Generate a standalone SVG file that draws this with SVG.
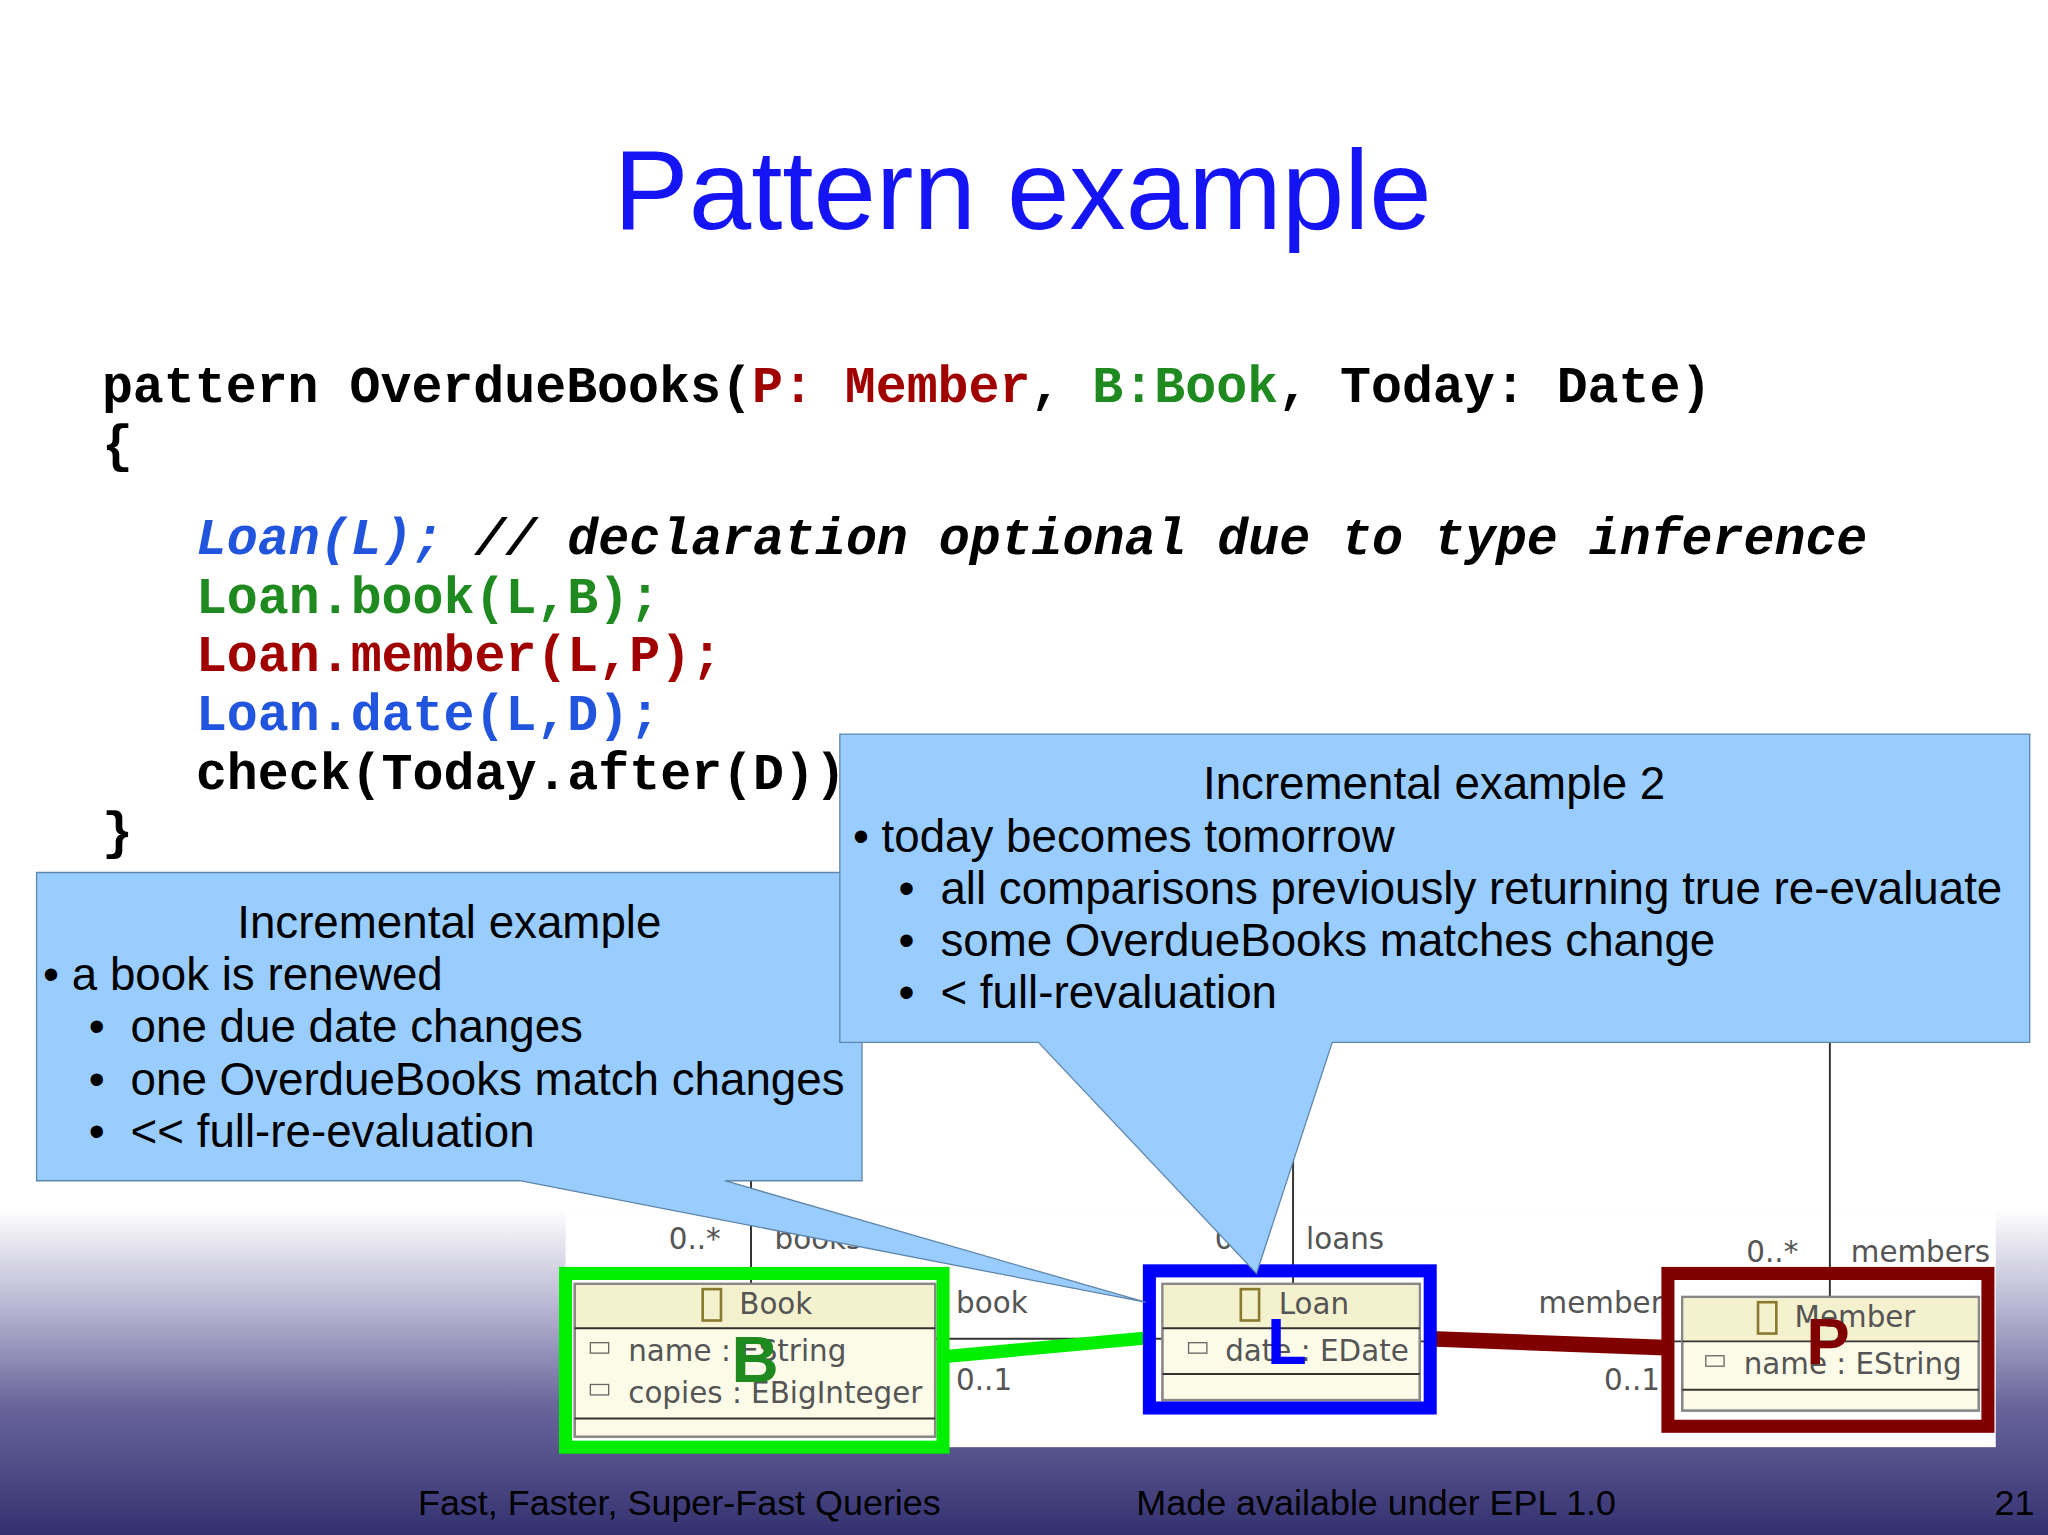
<svg xmlns="http://www.w3.org/2000/svg" width="2048" height="1535" viewBox="0 0 2048 1535">
<defs>
<linearGradient id="bg" x1="0" y1="0" x2="0" y2="1">
<stop offset="0" stop-color="#ffffff"/>
<stop offset="0.3" stop-color="#b8b6d2"/>
<stop offset="0.6" stop-color="#6a669c"/>
<stop offset="1" stop-color="#333070"/>
</linearGradient>
<style>
.code{font-family:"Liberation Mono",monospace;font-weight:bold;font-size:39.5px}
.ct{font-family:"Liberation Sans",Arial,sans-serif;font-size:35px;fill:#000}
.u{font-family:"DejaVu Sans",sans-serif;font-size:22.5px;fill:#555}
.cls{fill:#fcfbe8;stroke:#888;stroke-width:2}
.hd{fill:#f4f1cf}
.ln{stroke:#333;stroke-width:1.5;fill:none}
.ft{font-family:"Liberation Sans",Arial,sans-serif;font-size:27.5px;fill:#000}
.big{font-family:"Liberation Sans",Arial,sans-serif;font-size:50px;font-weight:bold}
</style>
</defs>
<g transform="scale(1.30612)">
<rect width="1568" height="1176" fill="#fff"/>
<rect y="925" width="1568" height="251" fill="url(#bg)"/>
<rect x="433" y="928" width="1095" height="180" fill="#fff"/>
<text x="783" y="175" text-anchor="middle" font-family="Liberation Sans,Arial,sans-serif" font-size="86" fill="#1414f5">Pattern example</text>
<g id="code" class="code">
<text x="78" y="308"><tspan fill="#000">pattern OverdueBooks(</tspan><tspan fill="#a00000">P: Member</tspan><tspan fill="#000">, </tspan><tspan fill="#1f8a1f">B:Book</tspan><tspan fill="#000">, Today: Date)</tspan></text>
<text x="78" y="353" fill="#000">{</text>
<text x="150" y="424" font-style="italic"><tspan fill="#2255dd">Loan(L);</tspan><tspan fill="#000"> // declaration optional due to type inference</tspan></text>
<text x="150" y="469" fill="#1f8a1f">Loan.book(L,B);</text>
<text x="150" y="514" fill="#a00000">Loan.member(L,P);</text>
<text x="150" y="559" fill="#2255dd">Loan.date(L,D);</text>
<text x="150" y="604" fill="#000">check(Today.after(D))</text>
<text x="78" y="649" fill="#000">}</text>
</g>
<g id="connectors">
<line class="ln" x1="575" y1="904" x2="575" y2="983"/>
<line class="ln" x1="990" y1="880" x2="990" y2="983"/>
<line class="ln" x1="1401" y1="798" x2="1401" y2="993"/>
<line class="ln" x1="716" y1="1025" x2="890" y2="1025"/>
<line class="ln" x1="1087" y1="1027" x2="1288" y2="1027"/>
<text class="u" x="512" y="956">0..*</text>
<text class="u" x="593" y="956">books</text>
<text class="u" x="930" y="956">0..*</text>
<text class="u" x="1000" y="956">loans</text>
<text class="u" x="1337" y="966">0..*</text>
<text class="u" x="1417" y="966">members</text>
<text class="u" x="732" y="1005">book</text>
<text class="u" x="732" y="1064">0..1</text>
<text class="u" x="1178" y="1005">member</text>
<text class="u" x="1228" y="1064">0..1</text>
<line x1="720" y1="1039" x2="882" y2="1024" stroke="#00ee00" stroke-width="10"/>
<line x1="1095" y1="1025" x2="1280" y2="1032" stroke="#800000" stroke-width="12"/>
</g>
<g id="book">
<rect class="cls" x="440" y="983" width="276" height="117"/>
<rect class="hd" x="441" y="984" width="274" height="33"/>
<line class="ln" x1="440" y1="1017" x2="716" y2="1017" stroke="#888"/>
<line class="ln" x1="440" y1="1086" x2="716" y2="1086" stroke="#888"/>
<rect x="538" y="987" width="14" height="24" fill="none" stroke="#8a7a30" stroke-width="2"/>
<text class="u" x="566" y="1006">Book</text>
<rect x="452" y="1028" width="14" height="8" fill="none" stroke="#666"/>
<text class="u" x="481" y="1042">name : EString</text>
<rect x="452" y="1060" width="14" height="8" fill="none" stroke="#666"/>
<text class="u" x="481" y="1074">copies : EBigInteger</text>
<rect x="433" y="975" width="289" height="133" fill="none" stroke="#00ee00" stroke-width="10"/>
<text class="big" x="560" y="1058" fill="#1f8a1f">B</text>
</g>
<g id="loan">
<rect class="cls" x="890" y="983" width="197" height="89"/>
<rect class="hd" x="891" y="984" width="195" height="33"/>
<line class="ln" x1="890" y1="1017" x2="1087" y2="1017" stroke="#888"/>
<line class="ln" x1="890" y1="1052" x2="1087" y2="1052" stroke="#888"/>
<rect x="950" y="987" width="14" height="24" fill="none" stroke="#8a7a30" stroke-width="2"/>
<text class="u" x="979" y="1006">Loan</text>
<rect x="910" y="1028" width="14" height="8" fill="none" stroke="#666"/>
<text class="u" x="938" y="1042">date : EDate</text>
<rect x="880" y="973" width="215" height="105" fill="none" stroke="#0000ff" stroke-width="10"/>
<text class="big" x="970" y="1044" fill="#0000ff">L</text>
</g>
<g id="member">
<rect class="cls" x="1288" y="993" width="227" height="87"/>
<rect class="hd" x="1289" y="994" width="225" height="33"/>
<line class="ln" x1="1288" y1="1027" x2="1515" y2="1027" stroke="#888"/>
<line class="ln" x1="1288" y1="1064" x2="1515" y2="1064" stroke="#888"/>
<rect x="1346" y="997" width="14" height="24" fill="none" stroke="#8a7a30" stroke-width="2"/>
<text class="u" x="1374" y="1016">Member</text>
<rect x="1306" y="1038" width="14" height="8" fill="none" stroke="#666"/>
<text class="u" x="1335" y="1052">name : EString</text>
<rect x="1277" y="975" width="245" height="117" fill="none" stroke="#800000" stroke-width="10"/>
<text class="big" x="1383" y="1044" fill="#800000">P</text>
</g>
<g id="callout1">
<path d="M28 668 H660 V904 H555 L877 997 L398 904 H28 Z" fill="#99ccff" stroke="#5f86a8" stroke-width="1"/>
<text class="ct" x="344" y="718" text-anchor="middle">Incremental example</text>
<text class="ct" x="33" y="758">• a book is renewed</text>
<text class="ct" x="68" y="798">•</text><text class="ct" x="100" y="798">one due date changes</text>
<text class="ct" x="68" y="838">•</text><text class="ct" x="100" y="838">one OverdueBooks match changes</text>
<text class="ct" x="68" y="878">•</text><text class="ct" x="100" y="878">&lt;&lt; full-re-evaluation</text>
</g>
<g id="callout2">
<path d="M643 562 H1554 V798 H1020 L962 975 L795 798 H643 Z" fill="#99ccff" stroke="#5f86a8" stroke-width="1"/>
<text class="ct" x="1098" y="612" text-anchor="middle">Incremental example 2</text>
<text class="ct" x="653" y="652">• today becomes tomorrow</text>
<text class="ct" x="688" y="692">•</text><text class="ct" x="720" y="692">all comparisons previously returning true re-evaluate</text>
<text class="ct" x="688" y="732">•</text><text class="ct" x="720" y="732">some OverdueBooks matches change</text>
<text class="ct" x="688" y="772">•</text><text class="ct" x="720" y="772">&lt; full-revaluation</text>
</g>
<g id="footer">
<text class="ft" x="320" y="1160">Fast, Faster, Super-Fast Queries</text>
<text class="ft" x="870" y="1160">Made available under EPL 1.0</text>
<text class="ft" x="1527" y="1160">21</text>
</g>
</g>
</svg>
